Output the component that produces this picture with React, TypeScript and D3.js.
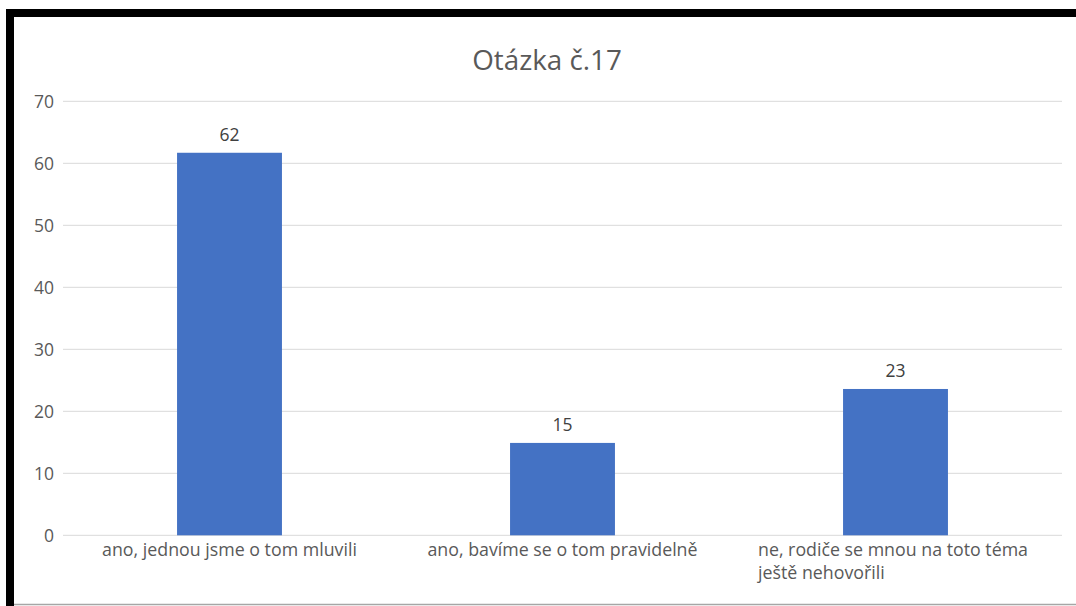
import React from "react";
import * as d3 from "d3";

const categories = [
  "ano, jednou jsme o tom mluvili",
  "ano, bavíme se o tom pravidelně",
  "ne, rodiče se mnou na toto téma|ještě nehovořili",
];
const values = [61.7, 14.9, 23.6];
const valueLabels = ["62", "15", "23"];
const yTicks = [0, 10, 20, 30, 40, 50, 60, 70];
const title = "Otázka č.17";

const W = 1076;
const H = 606;
const FONT = "'Open Sans', sans-serif";

export default function App() {
  const plotLeft = 63;
  const plotRight = 1062;
  const plotTop = 101.3;
  const plotBottom = 535.3;

  const x = d3.scaleBand<string>().domain(categories).range([plotLeft, plotRight]).padding(0);
  const y = d3.scaleLinear().domain([0, 70]).range([plotBottom, plotTop]);
  const barW = x.bandwidth() * 0.315;

  return (
    <svg
      width={W}
      height={H}
      style={{ position: "absolute", left: 0, top: 0, background: "#fff" }}
    >
      <rect x={0} y={0} width={W} height={H} fill="#fff" />
      <rect x={6} y={9} width={W - 6} height={8} fill="#000" />
      <rect x={6} y={9} width={8} height={H - 9} fill="#000" />
      <line x1={14} x2={W} y1={604.5} y2={604.5} stroke="#a6a6a6" strokeWidth={1.5} />

      <text
        x={547}
        y={70}
        textAnchor="middle"
        fontFamily={FONT}
        fontSize={27.8}
        fill="#595959"
      >
        {title}
      </text>

      {yTicks.map((t) => (
        <g key={t}>
          <line
            x1={plotLeft}
            x2={plotRight}
            y1={y(t)}
            y2={y(t)}
            stroke="#d9d9d9"
            strokeWidth={1}
          />
          <text
            x={54}
            y={y(t)}
            dy="0.36em"
            textAnchor="end"
            fontFamily={FONT}
            fontSize={17.5}
            fill="#595959"
          >
            {t}
          </text>
        </g>
      ))}

      {categories.map((c, i) => {
        const cx = (x(c) as number) + x.bandwidth() / 2;
        return (
          <g key={c}>
            <rect
              x={cx - barW / 2}
              y={y(values[i])}
              width={barW}
              height={y(0) - y(values[i])}
              fill="#4472c4"
            />
            <text
              x={cx}
              y={y(values[i]) - 12}
              textAnchor="middle"
              fontFamily={FONT}
              fontSize={17.5}
              fill="#404040"
            >
              {valueLabels[i]}
            </text>
          </g>
        );
      })}

      {categories.map((c) => {
        const cx = (x(c) as number) + x.bandwidth() / 2;
        const lines = c.split("|");
        if (lines.length === 1) {
          return (
            <text
              key={c}
              x={cx}
              y={556}
              textAnchor="middle"
              fontFamily={FONT}
              fontSize={17.8}
              fill="#595959"
            >
              {c}
            </text>
          );
        }
        return (
          <text key={c} x={758} y={556} fontFamily={FONT} fontSize={17.8} fill="#595959">
            {lines.map((l, k) => (
              <tspan key={k} x={758} y={556 + k * 22.5}>
                {l}
              </tspan>
            ))}
          </text>
        );
      })}
    </svg>
  );
}
